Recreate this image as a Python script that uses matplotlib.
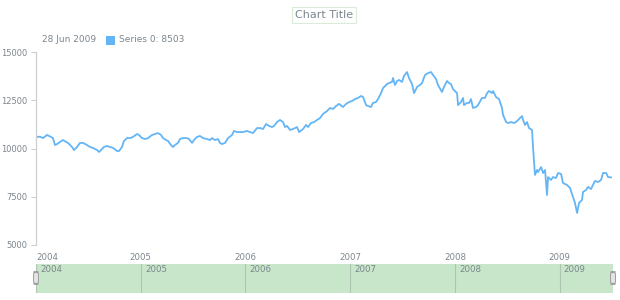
"""Series 0 over 2004-2009 with a scroller strip underneath."""
import matplotlib
matplotlib.use("Agg")
import matplotlib.pyplot as plt
from matplotlib.patches import FancyBboxPatch

# decimal years and values
YEARS = [
    2004.000, 2004.038, 2004.067, 2004.105, 2004.143, 2004.162, 2004.181, 2004.201,
    2004.229, 2004.258, 2004.287, 2004.306, 2004.344, 2004.363, 2004.392, 2004.420,
    2004.449, 2004.487, 2004.516, 2004.544, 2004.583, 2004.602, 2004.630, 2004.649,
    2004.678, 2004.707, 2004.735, 2004.774, 2004.793, 2004.821, 2004.840, 2004.869,
    2004.898, 2004.926, 2004.965, 2004.984,
    2005.012, 2005.041, 2005.070, 2005.108, 2005.136, 2005.165, 2005.194, 2005.213,
    2005.242, 2005.261, 2005.289, 2005.308, 2005.327, 2005.356, 2005.375, 2005.404,
    2005.442, 2005.461, 2005.490, 2005.509, 2005.538, 2005.566, 2005.595, 2005.633,
    2005.662, 2005.681, 2005.709, 2005.738, 2005.757, 2005.776, 2005.805, 2005.834,
    2005.872, 2005.891, 2005.920, 2005.948, 2005.977,
    2006.015, 2006.044, 2006.072, 2006.111, 2006.139, 2006.168, 2006.197, 2006.225,
    2006.254, 2006.273, 2006.302, 2006.330, 2006.359, 2006.378, 2006.397, 2006.426,
    2006.454, 2006.493, 2006.512, 2006.550, 2006.579, 2006.598, 2006.626, 2006.655,
    2006.684, 2006.713, 2006.741, 2006.779, 2006.808, 2006.837, 2006.865, 2006.894,
    2006.932, 2006.961, 2006.990,
    2007.018, 2007.046, 2007.075, 2007.104, 2007.123, 2007.152, 2007.171, 2007.199,
    2007.218, 2007.247, 2007.266, 2007.295, 2007.314, 2007.352, 2007.371, 2007.400,
    2007.409, 2007.428, 2007.448, 2007.467, 2007.495, 2007.514, 2007.543, 2007.562,
    2007.591, 2007.610, 2007.639, 2007.667, 2007.686, 2007.715, 2007.744, 2007.772,
    2007.791, 2007.820, 2007.839, 2007.877, 2007.896, 2007.925, 2007.944, 2007.963,
    2007.982,
    2008.021, 2008.030, 2008.059, 2008.078, 2008.087, 2008.116, 2008.135, 2008.154,
    2008.173, 2008.202, 2008.221, 2008.259, 2008.288, 2008.307, 2008.326, 2008.355,
    2008.364, 2008.393, 2008.422, 2008.450, 2008.460, 2008.489, 2008.508, 2008.537,
    2008.565, 2008.594, 2008.613, 2008.641, 2008.651, 2008.670, 2008.689, 2008.708,
    2008.737, 2008.746, 2008.765, 2008.785, 2008.794, 2008.823, 2008.842, 2008.861,
    2008.880, 2008.890, 2008.918, 2008.937, 2008.966, 2008.985,
    2009.014, 2009.033, 2009.071, 2009.100, 2009.128, 2009.147, 2009.167, 2009.186,
    2009.214, 2009.224, 2009.253, 2009.272, 2009.300, 2009.319, 2009.338, 2009.367,
    2009.396, 2009.415, 2009.444, 2009.463, 2009.491,
]
VALUES = [
    10600, 10610, 10540, 10700, 10600, 10540, 10180, 10230,
    10340, 10440, 10340, 10290, 10080, 9920, 10080, 10290,
    10290, 10180, 10080, 10030, 9920, 9820, 9970, 10080,
    10130, 10080, 10030, 9870, 9870, 10080, 10390, 10540,
    10540, 10600, 10750, 10700,
    10540, 10490, 10540, 10700, 10750, 10800, 10700, 10540,
    10440, 10390, 10180, 10080, 10180, 10290, 10490, 10540,
    10540, 10490, 10290, 10440, 10600, 10650, 10540, 10490,
    10440, 10540, 10440, 10490, 10290, 10230, 10290, 10540,
    10700, 10910, 10850, 10850, 10850,
    10910, 10850, 10800, 11060, 11060, 11010, 11270, 11170,
    11110, 11170, 11370, 11480, 11370, 11110, 11170, 10960,
    11010, 11110, 10850, 11010, 11220, 11110, 11320, 11370,
    11480, 11580, 11790, 11940, 12100, 12050, 12200, 12310,
    12150, 12310, 12410,
    12460, 12560, 12620, 12720, 12670, 12250, 12200, 12150,
    12360, 12410, 12560, 12870, 13130, 13340, 13390, 13450,
    13650, 13290, 13500, 13550, 13450, 13760, 13960, 13650,
    13340, 12870, 13190, 13290, 13390, 13810, 13910, 13960,
    13810, 13600, 13290, 12930, 13190, 13500, 13390, 13340,
    13080,
    12870, 12250, 12410, 12620, 12250, 12360, 12360, 12560,
    12100, 12150, 12250, 12620, 12620, 12870, 12980, 12870,
    12980, 12670, 12560, 12100, 11740, 11370, 11320, 11370,
    11320, 11420, 11530, 11680, 11480, 11220, 11370, 11060,
    10960, 10080, 8630, 8890, 8780, 9040, 8730, 8890,
    7590, 8520, 8370, 8520, 8470, 8730,
    8680, 8210, 8110, 7950, 7490, 7180, 6660, 7180,
    7330, 7750, 7850, 8010, 7900, 8110, 8320, 8260,
    8370, 8730, 8730, 8520, 8503,
]

YEAR_TICKS = [2004, 2005, 2006, 2007, 2008, 2009]
Y_TICKS = [5000, 7500, 10000, 12500, 15000]
LAST_DATE = "28 Jun 2009"
SERIES_NAME = "Series 0"

LINE = "#64B5F6"
TXT = "#7c868e"
X_MIN, X_MAX = 2004.0, 2009.51

plt.rcParams["font.family"] = "DejaVu Sans"
fig = plt.figure(figsize=(6.2, 3.0), dpi=100)

# ---- main plot
ax = fig.add_axes([36 / 620, 1 - 245 / 300, 577 / 620, 193 / 300])
ax.plot(YEARS, VALUES, color=LINE, lw=1.3, solid_joinstyle="round")
ax.set_xlim(X_MIN, X_MAX)
ax.set_ylim(5000, 15000)
ax.set_yticks(Y_TICKS)
ax.set_yticklabels([str(v) for v in Y_TICKS])
ax.set_xticks(YEAR_TICKS)
ax.set_xticklabels([str(y) for y in YEAR_TICKS])
for s in ("top", "right", "bottom"):
    ax.spines[s].set_visible(False)
ax.spines["left"].set_color("#cfcfcf")
ax.spines["left"].set_linewidth(0.9)
ax.tick_params(axis="y", length=3.5, color="#cfcfcf", labelsize=6,
               labelcolor=TXT, pad=2.5)
ax.tick_params(axis="x", length=0, labelsize=6.2, labelcolor=TXT, pad=6)
ax.get_xticklabels()[0].set_horizontalalignment("left")

# ---- title and legend
fig.text(324 / 620, 1 - 15 / 300, "Chart Title", ha="center", va="center",
         fontsize=8, color=TXT,
         bbox=dict(boxstyle="square,pad=0.3", fc="white", ec="#d8ecd8", lw=0.8))
fig.text(42 / 620, 1 - 40 / 300, LAST_DATE, ha="left", va="center",
         fontsize=6.5, color=TXT)
fig.patches.append(plt.Rectangle((106 / 620, 1 - 45 / 300), 9 / 620, 9 / 300,
                                 transform=fig.transFigure, fc=LINE, ec="none"))
fig.text(119 / 620, 1 - 40 / 300, f"{SERIES_NAME}: {VALUES[-1]}", ha="left",
         va="center", fontsize=6.5, color=TXT)

# ---- scroller strip
sc = fig.add_axes([36 / 620, 1 - 293 / 300, 577 / 620, 29 / 300])
sc.set_xlim(X_MIN, X_MAX)
sc.set_ylim(0, 1)
sc.set_facecolor("#c8e6c9")
for s in sc.spines.values():
    s.set_visible(False)
sc.set_xticks([])
sc.set_yticks([])
for y in YEAR_TICKS:
    sc.axvline(y, color="#b0c4b2", lw=0.8)
    sc.text(y + 0.04, 0.8, str(y), ha="left", va="center", fontsize=6.2,
            color=TXT)

# scroller handles
for hx in (36, 613):
    fig.patches.append(FancyBboxPatch(((hx - 2.5) / 620, 1 - 284 / 300),
                                      5 / 620, 12 / 300,
                                      boxstyle="round,pad=0,rounding_size=0.008",
                                      transform=fig.transFigure,
                                      fc="#e4e4e4", ec="#9e9e9e", lw=0.7))

fig.savefig("out.png", dpi=100)
